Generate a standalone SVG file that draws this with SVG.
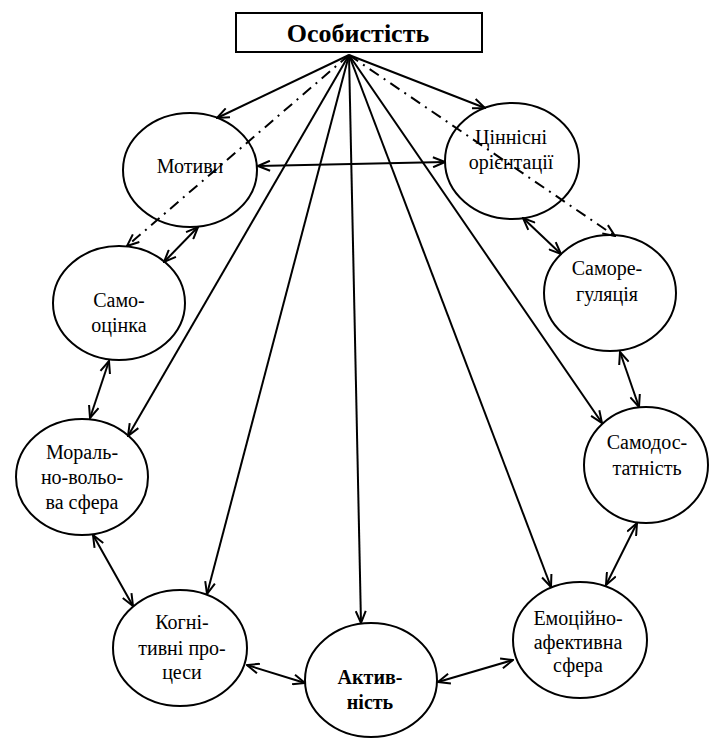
<svg xmlns="http://www.w3.org/2000/svg" width="710" height="739" viewBox="0 0 710 739">
<style>
.n ellipse{fill:none;stroke:#000;stroke-width:2}
text{font-family:"Liberation Serif","DejaVu Serif",serif}
.n text{font-size:20px;fill:#000;text-anchor:middle}
.c line{stroke:#000;stroke-width:2;fill:none}
.one{marker-end:url(#ah)}
.two{marker-start:url(#ah);marker-end:url(#ah)}
.dd{stroke-dasharray:11 6 2 6}
</style>
<defs>
<marker id="ah" viewBox="0 0 14 12" refX="13" refY="6" markerWidth="14" markerHeight="12" markerUnits="userSpaceOnUse" orient="auto-start-reverse">
<path d="M1,1 L13,6 L1,11" fill="none" stroke="#000" stroke-width="2"/>
</marker>
</defs>
<rect width="710" height="739" fill="#fff"/>
<g id="title">
<rect x="236" y="13" width="246" height="39" fill="#fff" stroke="#000" stroke-width="2"/>
<text x="358" y="42" font-size="26" font-weight="bold" text-anchor="middle">Особистість</text>
</g>
<g class="c" id="connectors">
<line class="one" x1="349" y1="55" x2="217" y2="118"/>
<line class="one dd" x1="349" y1="55" x2="127" y2="246"/>
<line class="one" x1="349" y1="55" x2="128" y2="436"/>
<line class="one" x1="349" y1="55" x2="207" y2="594"/>
<line class="one" x1="349" y1="55" x2="361" y2="623"/>
<line class="one" x1="349" y1="55" x2="551" y2="587"/>
<line class="one" x1="349" y1="55" x2="602" y2="423"/>
<line class="one" x1="349" y1="55" x2="485" y2="108"/>
<line class="one dd" x1="349" y1="55" x2="615" y2="236"/>
<line class="two" x1="258" y1="166" x2="445" y2="162"/>
<line class="two" x1="198" y1="227" x2="164" y2="262"/>
<line class="two" x1="109" y1="361" x2="90" y2="418"/>
<line class="two" x1="93" y1="535" x2="133" y2="606"/>
<line class="two" x1="247" y1="665" x2="305" y2="683"/>
<line class="two" x1="438" y1="682" x2="513" y2="660"/>
<line class="two" x1="606" y1="585" x2="637" y2="523"/>
<line class="two" x1="620" y1="352" x2="639" y2="407"/>
<line class="two" x1="523" y1="218" x2="561" y2="254"/>
</g>
<g class="n" id="motyvy"><ellipse cx="190" cy="170" rx="67" ry="57"/><text x="190" y="173">Мотиви</text></g>
<g class="n" id="tsinnisni"><ellipse cx="512" cy="161" rx="67" ry="58"/><text x="511" y="144">Ціннісні</text><text x="511" y="169">орієнтації</text></g>
<g class="n" id="samootsinka"><ellipse cx="119" cy="303" rx="66" ry="57"/><text x="119" y="307">Само-</text><text x="119" y="332">оцінка</text></g>
<g class="n" id="samoregulyatsiya"><ellipse cx="610" cy="293" rx="66" ry="58"/><text x="607" y="275">Саморе-</text><text x="607" y="301">гуляція</text></g>
<g class="n" id="moralno"><ellipse cx="82" cy="477" rx="66" ry="58"/><text x="82" y="459">Мораль-</text><text x="82" y="484">но-вольо-</text><text x="82" y="509">ва сфера</text></g>
<g class="n" id="samodostatnist"><ellipse cx="646" cy="465" rx="62" ry="58"/><text x="647" y="449">Самодос-</text><text x="647" y="475">татність</text></g>
<g class="n" id="kognityvni"><ellipse cx="180" cy="648" rx="67" ry="58"/><text x="182" y="629">Когні-</text><text x="182" y="655">тивні про-</text><text x="182" y="679">цеси</text></g>
<g class="n" id="aktyvnist"><ellipse cx="371" cy="680" rx="66" ry="57"/><text x="370" y="684" font-weight="bold">Актив-</text><text x="370" y="709" font-weight="bold">ність</text></g>
<g class="n" id="emotsiyno"><ellipse cx="580" cy="640" rx="67" ry="58"/><text x="578" y="625">Емоційно-</text><text x="578" y="649">афективна</text><text x="578" y="672">сфера</text></g>
</svg>
